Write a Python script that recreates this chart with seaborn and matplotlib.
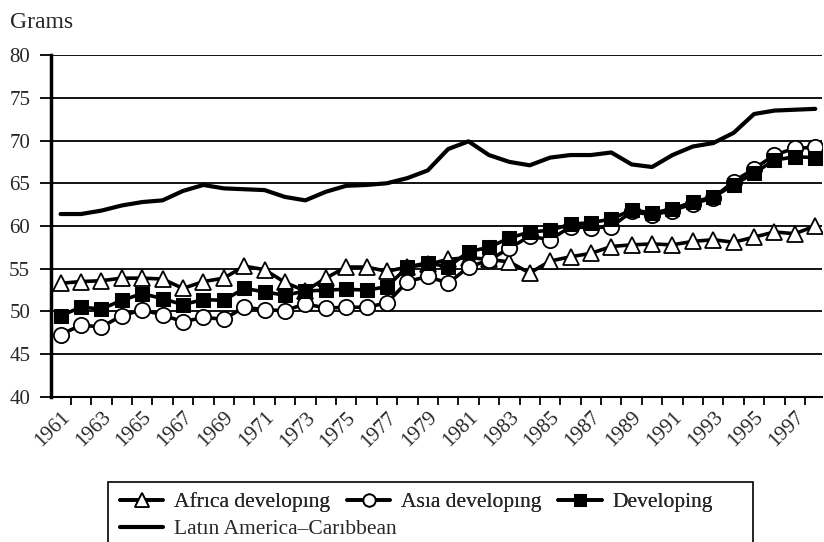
import numpy as np
import pandas as pd
import matplotlib
matplotlib.use('Agg')
import matplotlib.pyplot as plt
import seaborn as sns
from matplotlib.ticker import MultipleLocator, FixedLocator
from matplotlib.patches import Rectangle

anos = list(range(1961, 1999))

africa = [53.3, 53.5, 53.6, 53.9, 53.9, 53.8, 52.7, 53.5, 53.9, 55.3,
          54.9, 53.4, 52.4, 53.9, 55.2, 55.2, 54.7, 55.2, 55.5, 56.1,
          56.3, 56.1, 55.8, 54.5, 55.9, 56.4, 56.8, 57.6, 57.8, 57.9,
          57.8, 58.2, 58.4, 58.1, 58.7, 59.3, 59.1, 60.0]

asia = [47.3, 48.4, 48.2, 49.5, 50.2, 49.6, 48.8, 49.3, 49.1, 50.5,
        50.2, 50.1, 50.9, 50.4, 50.5, 50.5, 51.0, 53.5, 54.1, 53.3,
        55.2, 56.0, 57.4, 58.8, 58.4, 59.9, 59.8, 59.9, 61.7, 61.3,
        61.8, 62.6, 63.3, 65.2, 66.7, 68.3, 69.1, 69.2]

developing = [49.5, 50.5, 50.3, 51.3, 52.1, 51.5, 50.8, 51.4, 51.3, 52.7,
              52.3, 51.9, 52.4, 52.5, 52.6, 52.5, 52.9, 55.2, 55.7, 55.2,
              57.0, 57.5, 58.6, 59.3, 59.5, 60.2, 60.4, 60.8, 61.9, 61.5,
              62.0, 62.8, 63.4, 64.8, 66.2, 67.7, 68.1, 68.0]

latam = [61.4, 61.4, 61.8, 62.4, 62.8, 63.0, 64.1, 64.8, 64.4, 64.3,
         64.2, 63.4, 63.0, 64.0, 64.7, 64.8, 65.0, 65.6, 66.5, 69.0,
         69.9, 68.3, 67.5, 67.1, 68.0, 68.3, 68.3, 68.6, 67.2, 66.9,
         68.3, 69.3, 69.7, 70.9, 73.1, 73.5, 73.6, 73.7]

sns.set_style('white')
plt.rcParams['font.family'] = ['Liberation Serif', 'DejaVu Serif']
plt.rcParams['font.size'] = 15

fig = plt.figure(figsize=(8.24, 5.42), dpi=100)
ax = fig.add_axes([51 / 824, 1 - 397 / 542, (822 - 51) / 824, (397 - 55) / 542])

lw = 2.6
sns.lineplot(x=anos, y=africa, ax=ax, color='black', linewidth=lw, marker='^',
             markersize=12, markerfacecolor='white', markeredgecolor='black',
             markeredgewidth=1.3, label='Afrıca developıng')
sns.lineplot(x=anos, y=asia, ax=ax, color='black', linewidth=lw, marker='o',
             markersize=11, markerfacecolor='white', markeredgecolor='black',
             markeredgewidth=1.3, label='Asıa developıng')
sns.lineplot(x=anos, y=developing, ax=ax, color='black', linewidth=lw, marker='s',
             markersize=10, markerfacecolor='black', markeredgecolor='black',
             label='Developing')
sns.lineplot(x=anos, y=latam, ax=ax, color='black', linewidth=3,
             label='Latın America–Carıbbean')

ax.set_xlim(1960.53, 1998.33)
ax.set_ylim(40, 80)
ax.yaxis.set_major_locator(MultipleLocator(5))
ax.grid(axis='y', color='black', linewidth=1.3)
ax.set_axisbelow(True)

ax.xaxis.set_major_locator(FixedLocator(anos[::2]))
ax.set_xticklabels([str(a) for a in anos[::2]], rotation=45, ha='right',
                   rotation_mode='anchor')
ax.xaxis.set_minor_locator(FixedLocator(np.arange(1960.5, 1998.5, 1.0)))
ax.tick_params(axis='x', which='major', length=0, pad=8)
ax.tick_params(axis='x', which='minor', length=6, width=1.3, color='black',
               direction='out', bottom=True)
ax.tick_params(axis='y', length=8, width=1.3, color='black', direction='out',
               left=True, pad=7)

for s in ['top', 'right']:
    ax.spines[s].set_visible(False)
ax.spines['left'].set_linewidth(2.5)
ax.spines['left'].set_color('black')
ax.spines['bottom'].set_linewidth(1.5)
ax.spines['bottom'].set_color('black')
ax.set_xlabel('')
ax.set_ylabel('')

fig.text(10 / 824, 1 - 22 / 542, 'Grams', va='center', ha='left', fontsize=17)

# legend: three items on the first row, Latin America on the second, one frame
h, l = ax.get_legend_handles_labels()
ax.get_legend().remove()
estilo = dict(frameon=False, fontsize=15.5, markerscale=0.8, handlelength=2.0,
              handletextpad=0.5, borderpad=0, borderaxespad=0)
leg1 = fig.legend(h[:3], l[:3], ncol=3, loc='center left',
                  bbox_to_anchor=(120 / 824, 1 - 502 / 542),
                  columnspacing=0.8, **estilo)
leg2 = fig.legend(h[3:], l[3:], loc='center left',
                  bbox_to_anchor=(120 / 824, 1 - 529 / 542), **estilo)
fig.add_artist(leg1)
fig.patches.append(Rectangle((108 / 824, -0.05), (753 - 108) / 824,
                             (1 - 482 / 542) + 0.05, transform=fig.transFigure,
                             fill=False, edgecolor='black', linewidth=1.2))

fig.savefig('out.png', dpi=100)
